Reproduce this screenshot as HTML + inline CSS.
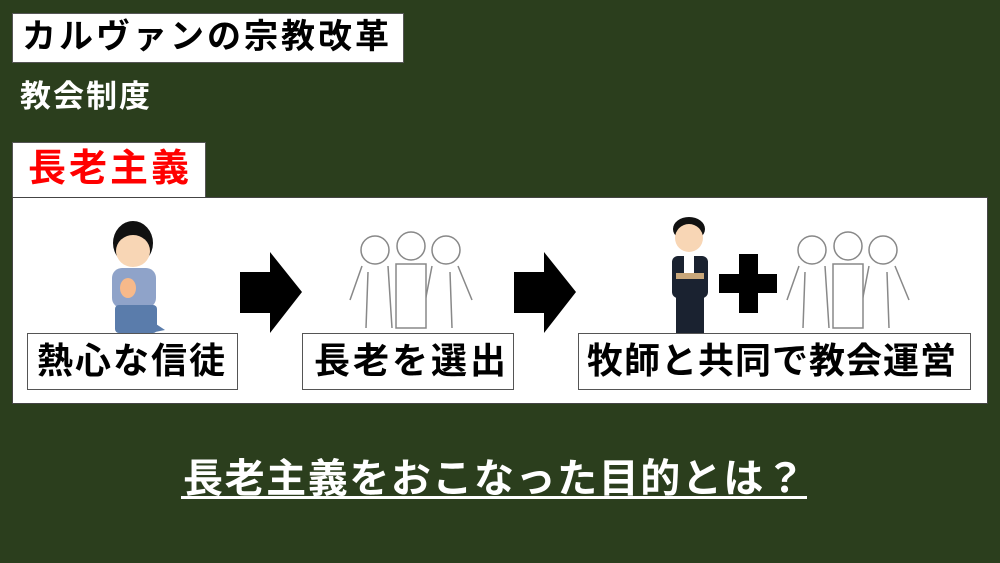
<!DOCTYPE html>
<html><head><meta charset="utf-8"><style>
body{margin:0;width:1000px;height:563px;background:#2b3e1d;position:relative;overflow:hidden;font-family:"Liberation Sans","Noto Sans CJK JP",sans-serif;font-weight:bold}
.a{position:absolute;box-sizing:border-box}
.box{background:#fff;border:1px solid #555}
.t{white-space:nowrap;line-height:1}
</style></head><body>
<div class="a box" style="left:12px;top:13px;width:392px;height:50px"></div>
<div class="a t" style="left:22px;top:20px;font-size:34px;letter-spacing:3px;color:#000">カルヴァンの宗教改革</div>
<div class="a t" style="left:20px;top:81px;font-size:31px;letter-spacing:2px;color:#fff">教会制度</div>
<div class="a box" style="left:12px;top:142px;width:194px;height:58px"></div>
<div class="a t" style="left:28px;top:150px;font-size:38px;letter-spacing:3px;color:#f00">長老主義</div>
<div class="a box" style="left:12px;top:197px;width:976px;height:207px;border-color:#444"></div>

<div class="a box" style="left:27px;top:333px;width:211px;height:57px"></div>
<div class="a t" style="left:37px;top:343px;font-size:36px;letter-spacing:2px">熱心な信徒</div>
<div class="a box" style="left:302px;top:333px;width:212px;height:57px"></div>
<div class="a t" style="left:314px;top:343px;font-size:36px;letter-spacing:3px">長老を選出</div>
<div class="a box" style="left:578px;top:333px;width:393px;height:57px"></div>
<div class="a t" style="left:587px;top:343px;font-size:36px;letter-spacing:1px">牧師と共同で教会運営</div>

<svg class="a" style="left:0;top:0" width="1000" height="563">
<polygon points="240,272 270,272 270,252 302,292 270,333 270,313 240,313" fill="#000"/>
<polygon points="514,272 544,272 544,252 576,292 544,333 544,313 514,313" fill="#000"/>
<path d="M739,254h19v20h19v19h-19v20h-19v-20h-20v-19h20z" fill="#000"/>
<g>
<ellipse cx="133" cy="243" rx="20" ry="22" fill="#111"/>
<ellipse cx="133" cy="251" rx="17" ry="16" fill="#f8d6b5"/>
<rect x="112" y="268" width="44" height="40" rx="10" fill="#8fa3c9"/>
<rect x="115" y="305" width="42" height="28" rx="4" fill="#5a7cab"/>
<polygon points="150,320 165,330 150,333" fill="#5a7cab"/>
<ellipse cx="128" cy="288" rx="8" ry="10" fill="#f7b98a"/>
</g>
<g fill="#fff" stroke="#888" stroke-width="1.5">
<g>
<circle cx="375" cy="250" r="14"/><circle cx="446" cy="250" r="14"/>
<path d="M362,266 L350,300 M388,266 L392,328 M368,272 L366,328 M432,266 L420,328 M458,266 L472,300 M450,272 L452,328"/>
<circle cx="411" cy="246" r="14"/>
<path d="M396,264 h30 v64 h-30 z"/>
</g>
<g transform="translate(437,0)">
<circle cx="375" cy="250" r="14"/><circle cx="446" cy="250" r="14"/>
<path d="M362,266 L350,300 M388,266 L392,328 M368,272 L366,328 M432,266 L420,328 M458,266 L472,300 M450,272 L452,328"/>
<circle cx="411" cy="246" r="14"/>
<path d="M396,264 h30 v64 h-30 z"/>
</g>
</g>
<g>
<ellipse cx="689" cy="229" rx="16" ry="12" fill="#111"/>
<ellipse cx="689" cy="238" rx="14" ry="14" fill="#f8d6b5"/>
<rect x="672" y="256" width="36" height="42" rx="6" fill="#1a2230"/>
<rect x="684" y="256" width="10" height="20" fill="#fff"/>
<rect x="676" y="295" width="28" height="38" fill="#1a2230"/>
<rect x="676" y="273" width="28" height="6" fill="#c9a77a"/>
</g>
<text x="494" y="492" text-anchor="middle" font-size="40" fill="#fff" font-weight="bold" textLength="622" lengthAdjust="spacing" font-family="Liberation Sans, Noto Sans CJK JP, sans-serif">長老主義をおこなった目的とは？</text>
<rect x="181" y="496" width="626" height="3" fill="#fff"/>
</svg>
</body></html>
